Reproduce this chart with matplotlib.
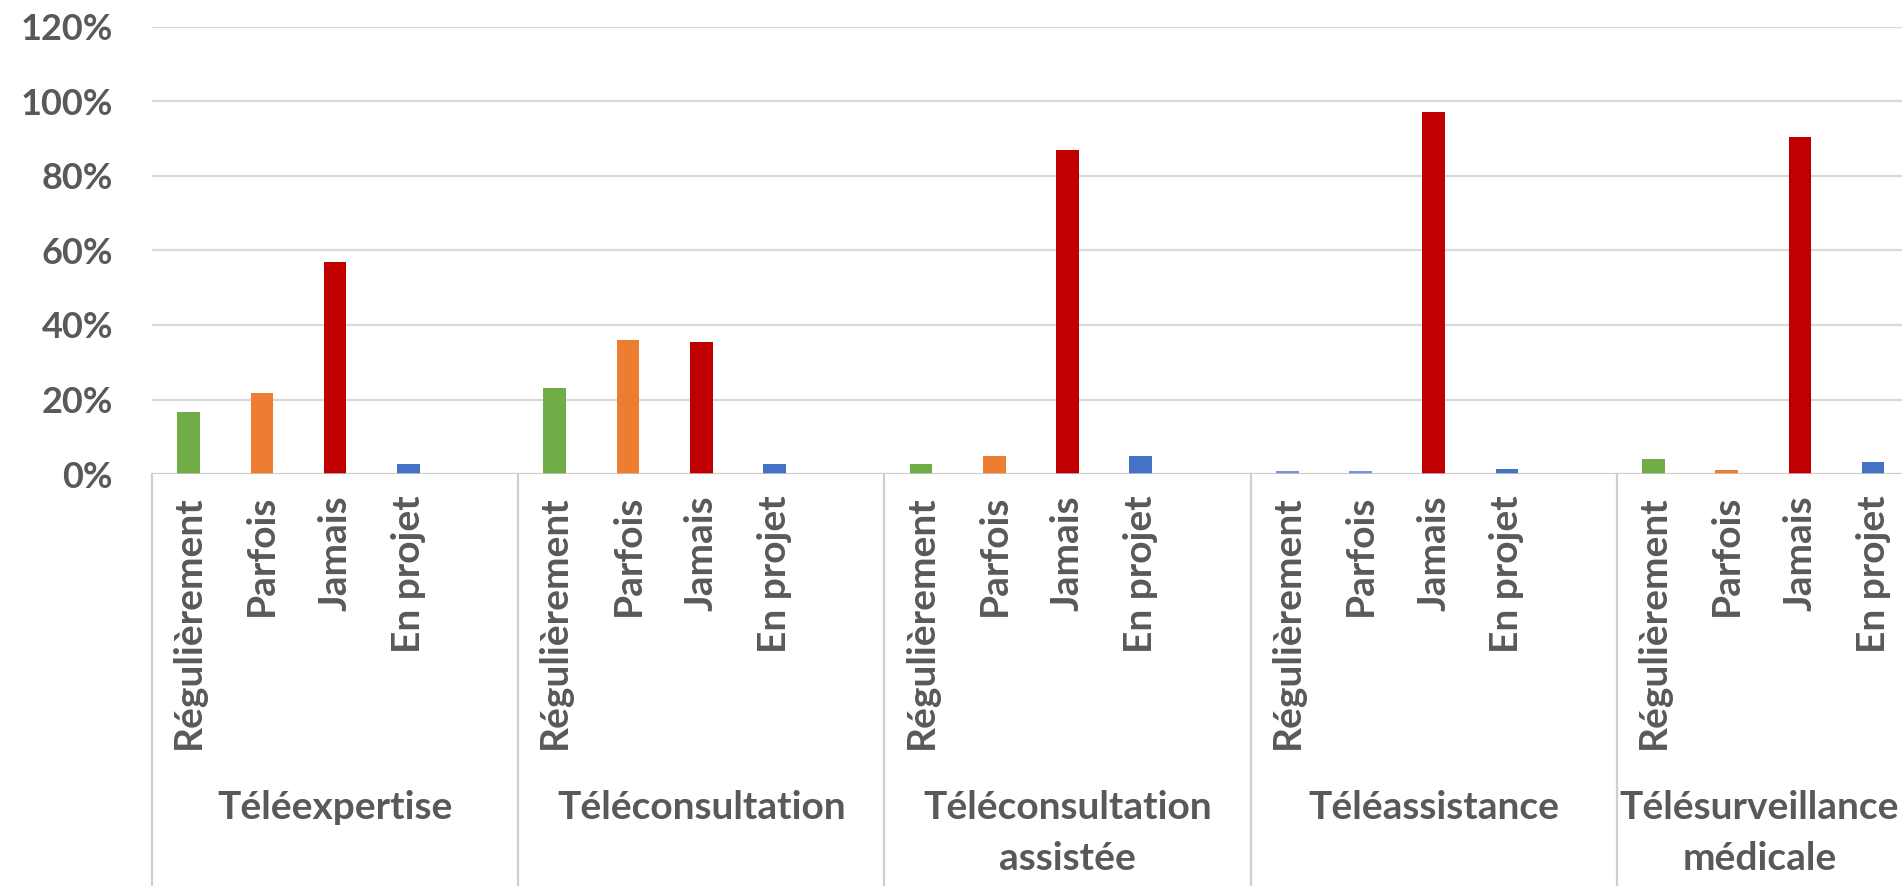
import matplotlib.pyplot as plt
from matplotlib.ticker import PercentFormatter

plt.rcParams['font.family'] = ['Lato', 'DejaVu Sans']

groups = ['Téléexpertise', 'Téléconsultation', 'Téléconsultation\nassistée',
          'Téléassistance', 'Télésurveillance\nmédicale']
responses = ['Régulièrement', 'Parfois', 'Jamais', 'En projet']

regulierement = [16.6, 23.0, 2.7, 0.7, 3.9]
parfois = [21.8, 36.0, 4.7, 0.7, 1.2]
jamais = [57.0, 35.5, 87.0, 97.3, 90.6]
en_projet = [2.8, 2.6, 4.7, 1.3, 3.1]

series = [regulierement, parfois, jamais, en_projet]
colors = ['#70ad47', '#ed7d31', '#c00000', '#4472c4']
# the Téléassistance "Régulièrement"/"Parfois" slivers are drawn in light blue
special = {(3, 0): '#7396d8', (3, 1): '#7396d8'}

text_col = '#595959'
grid_col = '#d9d9d9'
fs_y = 26
fs_x = 28
fw = 'bold'

fig = plt.figure(figsize=(19.02, 8.86), dpi=100)
W, H = 1902, 886
left, right, base, top = 152, 1983, 474, 27
ax = fig.add_axes([left / W, (H - base) / H, (right - left) / W, (base - top) / H])

slots = len(responses) + 1
for g in range(len(groups)):
    for r, vals in enumerate(series):
        c = special.get((g, r), colors[r])
        ax.bar(g * slots + r + 0.5, vals[g] / 100, width=0.31, color=c, zorder=3)

ax.set_xlim(0, len(groups) * slots)
ax.set_ylim(0, 1.2)
ax.set_yticks([0, 0.2, 0.4, 0.6, 0.8, 1.0, 1.2])
ax.yaxis.set_major_formatter(PercentFormatter(1.0, decimals=0))
ax.tick_params(axis='y', length=0, pad=28, labelsize=fs_y, labelcolor=text_col)
for t in ax.get_yticklabels():
    t.set_fontweight(fw)
ax.set_xticks([])
ax.yaxis.grid(True, color=grid_col, lw=1.6, zorder=0)
for s in ax.spines.values():
    s.set_visible(False)
ax.axhline(0, color='#c8c8c8', lw=1.8, zorder=4)

px = base - top
trans = ax.get_xaxis_transform()
for g, name in enumerate(groups):
    x0 = g * slots
    ax.plot([x0, x0], [0, -(H - base) / px - 0.05], color='#cfcfcf', lw=1.6,
            transform=trans, clip_on=False)
    for r, lab in enumerate(responses):
        ax.text(x0 + r + 0.5, -(495 - base) / px, lab, rotation=90, ha='center',
                va='top', fontsize=fs_x, fontweight=fw, color=text_col, transform=trans)
    # last group label is pulled left so that it stays inside the picture
    xc = x0 + (1.95 if g == len(groups) - 1 else 2.5)
    ax.text(xc, -(790 - base) / px, name, ha='center', va='top', fontsize=fs_x,
            fontweight=fw, color=text_col, linespacing=1.55,
            multialignment='center', transform=trans)

fig.savefig('out.png', dpi=100)
